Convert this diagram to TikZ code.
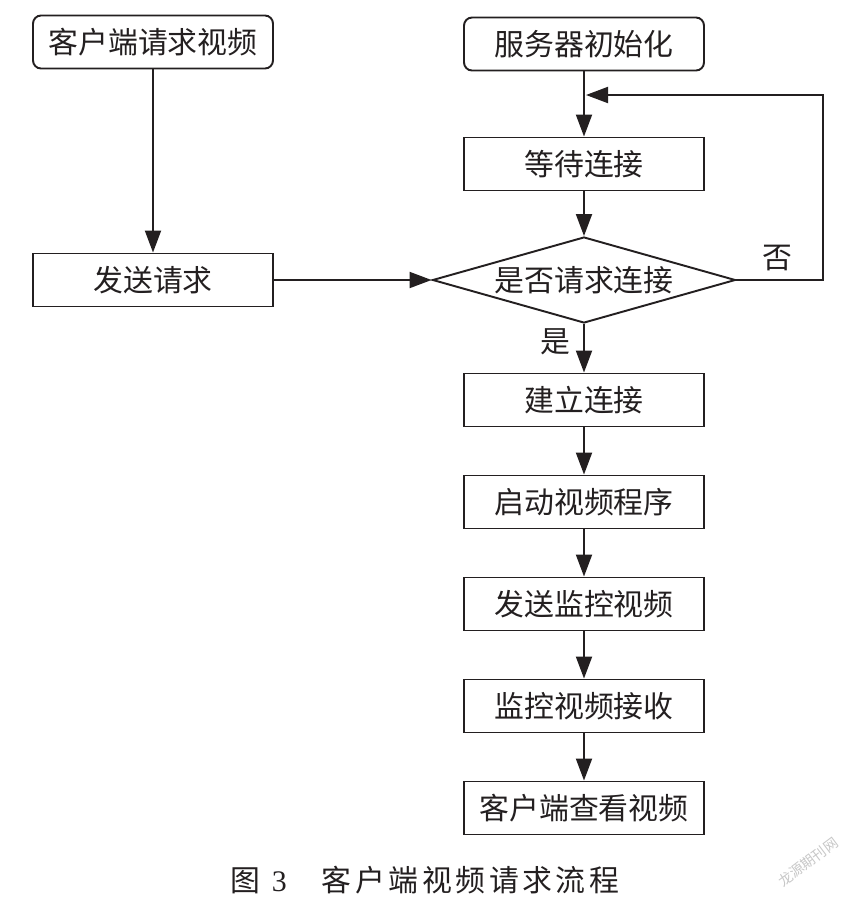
\documentclass[tikz,border=0pt]{standalone}
\usepackage{fontspec}
\usepackage{tikz}
\usepackage{xcolor}
\usetikzlibrary{shapes.geometric,arrows.meta}
\newfontfamily\cjk{Noto Sans CJK SC}
\newfontfamily\capcjk[LetterSpace=12]{Noto Sans CJK SC}
\newfontfamily\capnum{Liberation Serif}
\definecolor{ink}{RGB}{35,31,32}

\begin{document}
\begin{tikzpicture}[x=0.02cm,y=-0.02cm,line width=1.1pt,color=ink,
	box/.style={draw,minimum width=4.8cm,minimum height=1.06cm,inner sep=0pt,font=\cjk\fontsize{17}{17}\selectfont},
	startbox/.style={box,rounded corners=0.16cm},
	ask/.style={diamond,draw,aspect=3.52,minimum width=6.06cm,minimum height=1.72cm,inner sep=0pt,font=\cjk\fontsize{17}{17}\selectfont},
	word/.style={font=\cjk\fontsize{17}{17}\selectfont,inner sep=0pt},
	arr/.style={-{Triangle[length=0.44cm,width=0.32cm]}}]
		\useasboundingbox (0,0) rectangle (852,900);
		\node[startbox] (client) at (153,42) {客户端请求视频};
		\node[startbox] (server) at (584,44) {服务器初始化};
		\node[box] (wait) at (584,164) {等待连接};
		\node[ask] (ask) at (584,280) {是否请求连接};
		\node[box] (send) at (153,280) {发送请求};
		\foreach \t [count=\i] in {建立连接,启动视频程序,发送监控视频,监控视频接收,客户端查看视频}
			{
				\node[box] (s-\i) at (584,400+102*\i-102) {\t};
			}
		\draw[arr] (client) -- (send);
		\draw[arr] (send) -- (ask);
		\draw[arr] (server) -- (wait);
		\draw[arr] (wait) -- (ask);
		\draw[arr] (ask) -- (s-1);
		\foreach \i/\j in {1/2,2/3,3/4,4/5}
			\draw[arr] (s-\i) -- (s-\j);
		\coordinate (turn) at (823,95);
		\coordinate (back) at (586,95);
		\draw[arr] (ask.east) -| (turn) -- (back);
		\node[word] (no) at (777,258) {否};
		\node[word] (yes) at (555,342) {是};
		\node[inner sep=0pt,anchor=west] (cap) at (230,880)
			{{\capcjk\fontsize{17}{17}\selectfont 图}\hspace{0.22cm}{\capnum\fontsize{17}{17}\selectfont 3}\hspace{0.7cm}{\capcjk\fontsize{17}{17}\selectfont 客户端视频请求流程}};
		\node[rotate=37,text=black!22,inner sep=0pt,font=\cjk\fontsize{8}{8}\selectfont] (mark) at (808,862) {龙源期刊网};
	\end{tikzpicture}
\end{document}
